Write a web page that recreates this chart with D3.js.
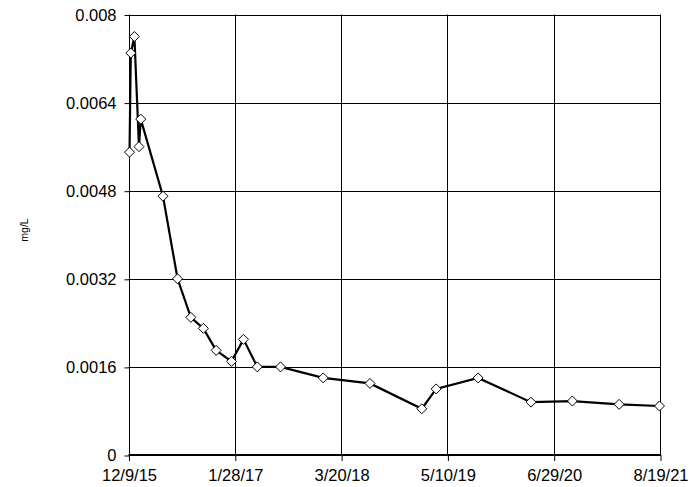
<!DOCTYPE html>
<html>
<head>
<meta charset="utf-8">
<script src="https://cdn.jsdelivr.net/npm/d3@7"></script>
<style>
  html, body { margin: 0; padding: 0; background: #fff; }
  svg { display: block; }
  text { font-family: "Liberation Sans", Arial, sans-serif; fill: #000; }
</style>
</head>
<body>
<svg id="chart" width="696" height="487"></svg>
<script>
const dates = ["12/13/15","12/18/15","1/1/16","1/19/16","1/26/16","4/22/16","6/18/16","8/9/16","9/27/16","11/16/16","1/15/17","3/3/17","4/26/17","7/26/17","1/9/18","7/11/18","1/30/19","3/27/19","9/7/19","4/1/20","9/10/20","3/12/21","8/17/21"];
const values = [0.0055,0.0073,0.0076,0.0056,0.0061,0.0047,0.0032,0.0025,0.0023,0.0019,0.0017,0.0021,0.0016,0.0016,0.0014,0.0013,0.00084,0.0012,0.0014,0.00096,0.00098,0.00092,0.00089];
const xTickLabels = ["12/9/15","1/28/17","3/20/18","5/10/19","6/29/20","8/19/21"];
const yTicks = [0, 0.0016, 0.0032, 0.0048, 0.0064, 0.008];
const yLabel = "mg/L";

const parse = d3.timeParse("%m/%d/%y");
const fmt = d3.timeFormat("%-m/%-d/%y");
const data = dates.map((d, i) => ({ date: parse(d), value: values[i] }));
const xTicks = xTickLabels.map(parse);

const margin = { left: 128.5, right: 36, top: 14.5, bottom: 32 };
const W = 696, H = 487;
const svg = d3.select("#chart");

const x = d3.scaleTime()
  .domain([xTicks[0], xTicks[xTicks.length - 1]])
  .range([margin.left, W - margin.right]);
const y = d3.scaleLinear()
  .domain([0, 0.008])
  .range([H - margin.bottom, margin.top]);

// gridlines
const g = svg.append("g");
g.selectAll("line.hg").data(yTicks.slice(1)).join("line")
  .attr("x1", margin.left).attr("x2", W - margin.right)
  .attr("y1", d => Math.round(y(d)) + 0.5).attr("y2", d => Math.round(y(d)) + 0.5)
  .attr("stroke", "#000").attr("stroke-width", 1);
g.selectAll("line.vg").data(xTicks).join("line")
  .attr("y1", margin.top).attr("y2", H - margin.bottom)
  .attr("x1", d => Math.round(x(d)) + 0.5).attr("x2", d => Math.round(x(d)) + 0.5)
  .attr("stroke", "#000").attr("stroke-width", 1);

// axes
const yAxis = d3.axisLeft(y).tickValues(yTicks).tickSize(5).tickPadding(8)
  .tickFormat(d => d === 0 ? "0" : d3.format(".4~f")(d));
const ay = svg.append("g").attr("transform", `translate(${Math.round(margin.left) + 0.5},0.5)`).call(yAxis);
ay.select(".domain").remove();
ay.selectAll("line").attr("stroke", "#000");
ay.selectAll("text").attr("font-size", "16.5px").attr("fill", "#000");

const xAxis = d3.axisBottom(x).tickValues(xTicks).tickSize(6).tickPadding(8).tickFormat(fmt);
const ax = svg.append("g").attr("transform", `translate(0.5,${Math.round(H - margin.bottom)})`).call(xAxis);
ax.select(".domain").remove();
ax.selectAll("line").attr("stroke", "#000");
ax.selectAll("text").attr("font-size", "16.5px").attr("fill", "#000");

// bottom axis line (thicker)
svg.append("line")
  .attr("x1", margin.left).attr("x2", W - margin.right + 1)
  .attr("y1", Math.round(y(0))).attr("y2", Math.round(y(0)))
  .attr("stroke", "#000").attr("stroke-width", 2);

// y label
svg.append("text")
  .attr("transform", `translate(28,230) rotate(-90)`)
  .attr("text-anchor", "middle")
  .attr("font-size", "10.5px")
  .text(yLabel);

// line
const line = d3.line().x(d => x(d.date)).y(d => y(d.value));
svg.append("path").datum(data)
  .attr("d", line)
  .attr("fill", "none").attr("stroke", "#000").attr("stroke-width", 2.2)
  .attr("stroke-linejoin", "miter");

// diamond markers
const s = 5;
svg.selectAll("path.mk").data(data).join("path")
  .attr("class", "mk")
  .attr("d", d => {
    const cx = x(d.date), cy = y(d.value);
    return `M${cx},${cy - s}L${cx + s},${cy}L${cx},${cy + s}L${cx - s},${cy}Z`;
  })
  .attr("fill", "#fff").attr("stroke", "#000").attr("stroke-width", 1);
</script>
</body>
</html>
